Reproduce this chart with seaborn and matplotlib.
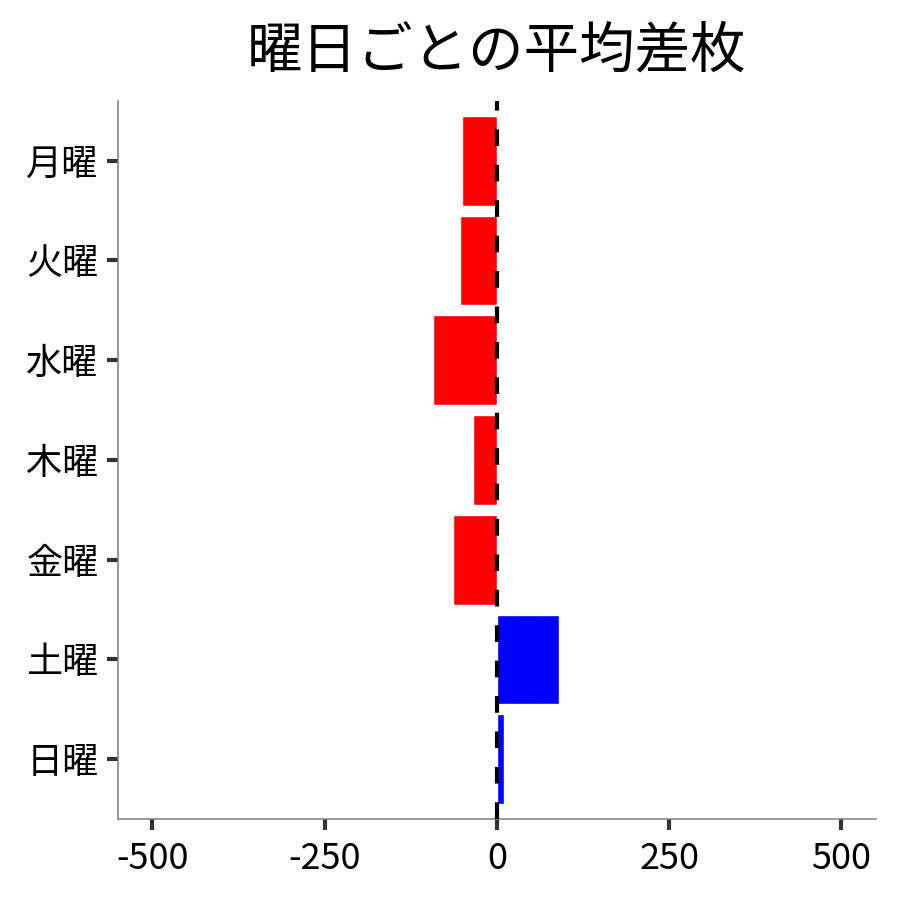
import pandas as pd
import seaborn as sns
import matplotlib.pyplot as plt

# weekday labels and average differences
days = ['月曜', '火曜', '水曜', '木曜', '金曜', '土曜', '日曜']
avg_diff = [-51, -54, -93, -34, -64, 91, 10]
x_ticks = [-500, -250, 0, 250, 500]

df = pd.DataFrame({'day': days, 'diff': avg_diff})
bar_colors = ['#FF0000' if v < 0 else '#0000FF' for v in avg_diff]

sns.set_style('white')
plt.rcParams['font.family'] = ['Noto Sans CJK JP', 'DejaVu Sans']
plt.rcParams['text.color'] = 'black'

fig = plt.figure(figsize=(9, 9), dpi=100)
ax = fig.add_axes([0.131, 0.09, 0.842, 0.798])

sns.barplot(data=df, x='diff', y='day', hue='day', palette=bar_colors,
            order=days, hue_order=days, orient='h', width=0.9,
            dodge=False, legend=False, saturation=1, ax=ax)

# zero reference line
ax.axvline(0, color='black', linewidth=3, linestyle=(0, (4, 4.5)), zorder=5)

ax.set_xlim(-550, 550)
ax.set_ylim(6.6, -0.6)
ax.set_xticks(x_ticks)
ax.set_xticklabels([str(t) for t in x_ticks])
ax.set_xlabel('')
ax.set_ylabel('')
ax.set_title('曜日ごとの平均差枚', fontsize=40, pad=24, color='black')

sns.despine(ax=ax)
for side in ['left', 'bottom']:
    ax.spines[side].set_color('#7f7f7f')
    ax.spines[side].set_linewidth(1.1)

ax.tick_params(axis='both', which='major', labelsize=26, length=8,
               width=3, color='#333333', labelcolor='black',
               bottom=True, left=True)
ax.tick_params(axis='x', pad=8)
ax.tick_params(axis='y', pad=6)

fig.savefig('out.png', dpi=100)
